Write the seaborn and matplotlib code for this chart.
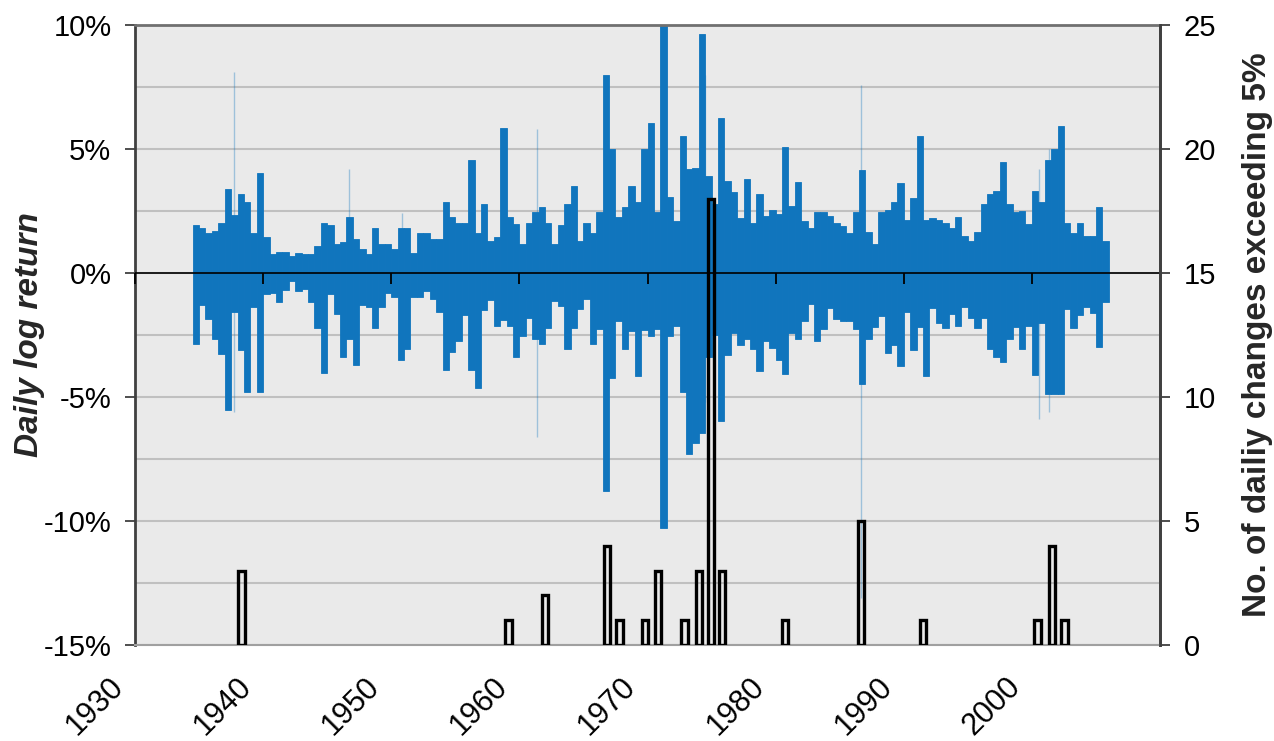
import numpy as np
import pandas as pd
import matplotlib
matplotlib.use("Agg")
import matplotlib.pyplot as plt
from matplotlib.ticker import MultipleLocator, FuncFormatter
from matplotlib.transforms import ScaledTranslation
import seaborn as sns

# ---------------- data ----------------
# envelope of daily log returns (%) in half-year bins starting 1934.5
bin_start = 1934.5
bin_step = 0.5
ret_max = [1.93, 1.81, 1.61, 1.69, 2.01, 3.39, 2.34, 3.19, 2.86, 1.61,
           4.02, 1.47, 0.76, 0.84, 0.84, 0.69, 0.82, 0.76, 0.76, 1.07,
           2.01, 1.92, 1.16, 1.27, 2.26, 1.39, 0.96, 0.76, 1.81, 1.16,
           1.16, 0.96, 1.81, 1.81, 0.82, 1.61, 1.61,
           1.39, 1.39, 2.85, 2.24, 2.01, 2.01, 4.56, 1.61, 2.78, 1.30,
           1.47, 5.84, 2.24, 1.97, 1.16, 2.01, 2.44, 2.65, 2.01, 1.16,
           1.93, 2.78, 3.50, 1.30, 2.01, 1.61, 2.44, 8.00, 5.01, 2.24,
           2.65, 3.50, 2.85, 5.01, 6.06, 2.44, 10.20, 3.05, 2.11, 5.52,
           4.20, 4.24, 9.65, 3.90,
           2.80, 6.24, 3.72, 3.27, 2.23, 3.80, 2.03, 3.17, 2.31, 2.53,
           2.39, 5.08, 2.69, 3.68, 2.11, 1.81, 2.44, 2.44, 2.31, 2.03,
           1.89, 1.60, 2.44, 4.15, 1.65, 1.15, 2.44, 2.53, 2.85, 3.63,
           2.14, 3.02, 5.54, 2.14, 2.20,
           2.13, 2.01, 1.80, 2.26, 1.50, 1.28, 1.67, 2.78, 3.19, 3.31,
           4.48, 2.78, 2.47, 2.52, 1.96, 3.31, 2.85, 4.55, 5.01, 5.93,
           2.01, 1.61, 2.01, 1.50, 1.50, 2.66, 1.28]
ret_min = [-2.87, -1.31, -1.85, -2.68, -3.28, -5.52, -1.58, -3.09, -4.78, -1.36,
           -4.78, -0.86, -0.80, -1.17, -0.69, -0.32, -0.73, -0.63, -1.17, -2.23,
           -4.03, -0.86, -1.67, -3.40, -2.67, -3.72, -1.29, -1.36, -2.23, -1.39,
           -0.80, -0.97, -3.52, -3.06, -0.97, -0.97, -0.73,
           -1.04, -1.58, -3.93, -3.18, -2.75, -1.71, -3.93, -4.65, -1.50, -1.07,
           -2.14, -1.90, -2.14, -3.40, -2.55, -1.81, -2.66, -2.86, -2.23, -1.13,
           -1.34, -3.06, -2.23, -1.47, -1.04, -2.86, -2.25, -8.80, -4.24, -1.95,
           -3.06, -2.35, -4.14, -2.28, -2.55, -2.25, -10.28, -2.55, -2.14, -4.78,
           -7.31, -6.87, -6.46, -3.40,
           -2.50, -5.98, -3.32, -2.41, -2.91, -2.66, -3.08, -3.96, -2.75, -3.03,
           -3.49, -4.07, -2.41, -2.66, -1.92, -1.25, -2.75, -2.25, -1.42, -1.87,
           -1.92, -1.92, -2.25, -4.49, -2.66, -2.17, -1.72, -3.21, -2.91, -3.74,
           -1.59, -3.11, -2.17, -4.15, -1.40,
           -2.01, -2.21, -1.67, -2.14, -1.36, -1.81, -2.21, -1.81, -3.06, -3.39,
           -3.60, -2.68, -2.17, -3.06, -2.14, -4.13, -2.01, -4.88, -4.88, -4.88,
           -1.44, -2.21, -1.71, -1.37, -1.60, -3.00, -1.17]

# isolated single-day spikes (faint lines)
spike_years = [1937.75, 1946.7, 1950.8, 1961.4, 1974.5, 1986.7, 2000.55, 2001.35]
spike_hi = [8.1, 4.2, 2.4, 5.8, 8.0, 7.6, 4.2, 5.0]
spike_lo = [-5.6, -1.0, -0.5, -6.6, -5.2, -13.1, -5.9, -5.6]

# number of daily changes exceeding 5% (right axis)
count_years = [1938.3, 1959.15, 1962.0, 1966.85, 1967.8, 1969.8, 1970.8, 1972.9,
               1974.0, 1974.95, 1975.8, 1980.75, 1986.65, 1991.5, 2000.45,
               2001.55, 2002.55]
counts = [3, 1, 2, 4, 1, 1, 3, 1, 3, 18, 3, 1, 5, 1, 1, 4, 1]

decades = [1930, 1940, 1950, 1960, 1970, 1980, 1990, 2000]
decade_labels = ["1930", "1940", "1950", "1960", "1970", "1980", "1990", "2000"]

# ---------------- style ----------------
sns.set_theme(style="white")
plt.rcParams["font.family"] = ["Liberation Sans", "DejaVu Sans"]

BLUE = "#1075bd"
BG = "#eaeaea"
GRID = "#c0c0c0"
SPINE = "#404040"

fig = plt.figure(figsize=(12.74, 7.41), dpi=100)
fig.patch.set_facecolor("white")
L, R, T, B = 135, 1160, 25, 645
ax = fig.add_axes([L / 1274, 1 - B / 741, (R - L) / 1274, (B - T) / 741])
ax.set_facecolor(BG)

centers = bin_start + bin_step * (np.arange(len(ret_max)) + 0.5)
df = pd.DataFrame({"year": centers, "hi": ret_max, "lo": ret_min})
for col in ["hi", "lo"]:
    sns.barplot(data=df, x="year", y=col, native_scale=True, width=1.0,
                color=BLUE, saturation=1, linewidth=0.6, edgecolor=BLUE,
                errorbar=None, ax=ax, zorder=2)

ax.vlines(spike_years, spike_lo, spike_hi, color=BLUE, alpha=0.35, lw=1.0, zorder=1.5)

ax.set_xlim(1930, 2010)
ax.set_ylim(-15, 10)
ax.yaxis.set_major_locator(MultipleLocator(5))
ax.yaxis.set_minor_locator(MultipleLocator(2.5))
ax.yaxis.set_major_formatter(FuncFormatter(lambda v, p: f"{v:.0f}%"))
ax.grid(which="both", axis="y", color=GRID, lw=1.5, zorder=0)
ax.grid(False, axis="x")
ax.set_axisbelow(True)
ax.axhline(0, color="black", lw=1.2, zorder=3)

ax.tick_params(axis="y", which="major", direction="out", length=7, width=1.3,
               color=SPINE, labelsize=21, pad=10, left=True, labelcolor="black")
ax.tick_params(axis="y", which="minor", length=0)
ax.set_xticks(decades)
ax.set_xticklabels(decade_labels, rotation=45, ha="right", va="center",
                   rotation_mode="anchor", fontsize=22)
ax.tick_params(axis="x", length=0, pad=27, labelcolor="black")
shift = ScaledTranslation(-16 / 100, 0, fig.dpi_scale_trans)
for lab in ax.get_xticklabels():
    lab.set_transform(lab.get_transform() + shift)
ax.set_xlabel("")
ax.set_ylabel("Daily log return", fontsize=24, fontweight="bold", style="italic")
ax.yaxis.set_label_coords(-0.088, 0.5)

for s in ["left", "top", "right"]:
    ax.spines[s].set_color(SPINE)
    ax.spines[s].set_linewidth(2)
ax.spines["top"].set_color("#707070")
ax.spines["bottom"].set_color("#a0a0a0")
ax.spines["bottom"].set_linewidth(1.5)

# tick marks on the zero line
sec = ax.secondary_xaxis(0.6)
sec.set_xticks(decades)
sec.tick_params(direction="in", length=8, width=1.3, color="black", labeltop=False,
                labelbottom=False)
sec.spines["top"].set_visible(False)
sec.spines["bottom"].set_visible(False)
sec.set_zorder(4)

# right axis: counts
ax2 = ax.twinx()
dfc = pd.DataFrame({"year": count_years, "n": counts})
min_gap = np.min(np.diff(np.sort(count_years)))
sns.barplot(data=dfc, x="year", y="n", native_scale=True, width=0.5 / min_gap,
            fill=False, color="black", linewidth=2.4, errorbar=None, ax=ax2)
ax2.set_xlim(1930, 2010)
ax2.set_ylim(0, 25)
ax2.yaxis.set_major_locator(MultipleLocator(5))
ax2.tick_params(axis="y", direction="out", length=7, width=1.3, color=SPINE,
                labelsize=21, pad=10, right=True, labelcolor="black")
ax2.set_ylabel("No. of dailiy changes exceeding 5%", fontsize=24, fontweight="bold")
ax2.yaxis.set_label_coords(1.08, 0.5)
ax2.grid(False)
for s in ["left", "top", "bottom"]:
    ax2.spines[s].set_visible(False)
ax2.spines["right"].set_color(SPINE)
ax2.spines["right"].set_linewidth(2)

fig.savefig("out.png", dpi=100)
